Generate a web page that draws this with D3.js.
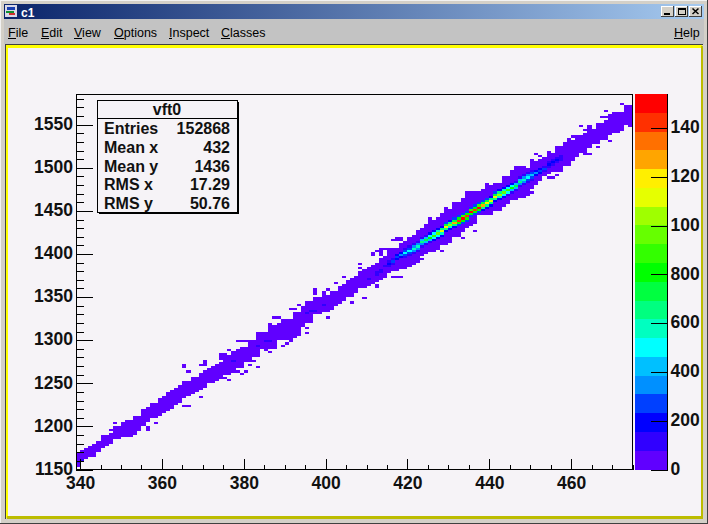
<!DOCTYPE html>
<html><head><meta charset="utf-8">
<script src="https://cdn.jsdelivr.net/npm/d3@7"></script>
<style>html,body{margin:0;padding:0;background:#c3c3c3}svg{display:block}</style>
</head><body><div id="chart"></div>
<script>
const xTicks=[340,360,380,400,420,440,460];
const xMinor=[345,350,355,365,370,375,385,390,395,405,410,415,425,430,435,445,450,455,465,470,475];
const yTicks=[1150,1200,1250,1300,1350,1400,1450,1500,1550];
const yMinor=[1160,1170,1180,1190,1210,1220,1230,1240,1260,1270,1280,1290,1310,1320,1330,1340,1360,1370,1380,1390,1410,1420,1430,1440,1460,1470,1480,1490,1510,1520,1530,1540,1560,1570,1580];
const paletteTicks=[0,200,400,600,800,1000,1200,1400];
const paletteLabels=["0","200","400","600","800","100","120","140"];
const paletteColors=["#6000ff","#3000ff","#0000ff","#0040ff","#0090ff","#00c0ff","#00ffff","#00ffc0","#00ff80","#00ff40","#00ff00","#33ff00","#66ff00","#9fff00","#e6ff00","#ffef00","#ffa500","#ff7000","#ff3000","#ff0000"];
const menuNames=["File","Edit","View","Options","Inspect","Classes"];
const statLabels=["Entries","Mean x","Mean y","RMS x","RMS y"];
const statValues=["152868","432","1436","17.29","50.76"];
// first x bin of the histogram; one entry per 1-unit column
const firstBin=339;
const envLow=[1153,1162,1165,1165.5,1167,1173.5,1175,1178,1181,1185,1187,1188,1189,1189,1191,1196,1201.5,1205,1211,1213,1214,1219,1219,1220,1227,1228,1232.5,1237,1238,1241,1244,1245,1252,1252,1254,1256,1260,1261.5,1266.5,1268,1269,1275,1278,1280,1280,1290,1288.5,1290,1290,1300,1300,1300,1299,1304,1306,1316,1321,1321,1330,1331,1333,1334,1335,1341,1343,1346.5,1350.5,1351.5,1356,1360,1362,1364,1365,1368,1371,1374,1378,1380,1381,1383,1384,1386,1388,1392,1399,1400.7,1402.7,1404.6,1406.5,1410,1411,1414,1420,1422,1426,1430,1433,1436,1445,1445,1446,1447,1451,1452,1457,1459,1462.6,1463,1466,1466.5,1469.5,1476,1482,1486,1490,1493.5,1497.3,1497,1497,1503,1503,1509,1514.7,1518.6,1518.6,1523.6,1528,1528,1533,1533,1538,1540,1540,1543.7,1551.5,1551.5];
const envHigh=[1169,1171.5,1175,1176.5,1181,1182,1189,1190,1193,1198,1199,1204,1209,1209,1212,1213,1221,1221,1225,1227.5,1232,1235,1240,1241.5,1245,1246,1250,1253,1256,1258.5,1262,1263,1269,1270.5,1273,1275,1283,1284,1287,1290,1290,1292.5,1298,1298,1303,1308,1310,1316,1316,1318,1325,1325,1325,1333,1333,1339,1344,1344,1346,1349,1354,1354,1355.6,1358,1362,1366,1369,1372,1376,1378,1383.4,1385,1387,1390,1394,1399,1404,1406,1408,1412,1415,1419,1423,1428,1431,1433.6,1441,1442,1443,1447,1453.7,1453.7,1460,1460,1466,1471,1472,1472,1472,1473,1482,1482,1483,1483,1490,1490,1496.6,1503,1503,1502,1502,1509,1509,1511,1512,1518.7,1518.7,1524.5,1525.7,1530.3,1531,1532,1535,1537,1540.8,1544,1545,1549.7,1550.5,1554.3,1559.3,1561,1563,1566,1572,1572];
// isolated low-count cells [x, y]
const strayCells=[[365,1269],[365,1271.5],[366,1263],[370,1273.5],[370,1271],[370,1276],[369,1271],[365,1250.7],[366,1250.7],[365,1222.8],[366,1222.8],[369,1234.5],[357,1227],[358,1210],[358,1203],[360,1215],[356,1195],[356,1197.5],[348,1203],[347,1195],[348,1195],[349,1198.5],[350,1198.5],[348,1185],[343,1170.6],[344,1170.6],[340,1172],[341,1172],[342,1172],[341,1163],[397,1356],[397,1354],[397,1358.5],[399,1355],[397,1349],[400,1352],[400,1359],[393,1340],[392,1337],[391,1335],[387,1327],[388,1327],[386,1315.6],[386,1318],[383,1309],[383,1305],[378,1299],[379,1299],[380,1299],[381,1299],[376,1288.6],[379,1291],[374,1284],[374,1282],[374,1279],[381,1277],[382,1277],[381,1271],[383,1269],[378,1264.6],[377,1263],[379,1261],[380,1263],[375,1257],[376,1253],[386,1287],[389,1293],[390,1297],[395,1313],[395,1309],[400,1333],[400,1327],[402,1366],[404,1373.6],[409,1349],[406,1343.5],[412,1363],[412,1360.5],[416,1373.6],[417,1373.6],[418,1373.6],[408,1388],[408,1383.6],[411,1399],[411,1401.5],[412,1404],[413,1401],[413,1399],[413,1403],[413,1407],[414,1407],[415,1407],[417,1419],[418,1419],[417,1416.5],[418,1416.5],[416,1416],[421,1391],[436,1426],[433,1417.7],[423,1393],[421,1390],[428,1404],[450,1470],[451,1517],[450,1509],[452,1514],[472,1574],[468,1566],[469,1560.5],[470,1564.7],[467,1558],[468,1558],[468,1554.6],[466,1552],[467,1552],[466,1549.5],[467,1549.5],[464,1549.6],[464,1547],[462,1548.5],[463,1544],[460,1536],[461,1536],[459,1534.6],[456,1520],[457,1520],[456,1522.5],[457,1522.5],[469,1530],[466,1524.5],[463,1516],[464,1516],[456,1491.6],[454,1489],[455,1489],[474,1549.6]];
// slightly fuller cells inside the band [x, y]
const denserCells=[[385,1299],[386,1299],[377,1275],[383,1293],[395,1330],[396,1333],[397,1333],[399,1341],[410,1372],[412,1379],[413,1379],[412,1376.5],[413,1381],[414,1385],[339,1158],[340,1160]];
// ridge: x of column, lower y of first row, counts in seven successive rows
const ridgeX=[415,416,417,418,419,420,421,422,423,424,425,426,427,428,429,430,431,432,433,434,435,436,437,438,439,440,441,442,443,444,445,446,447,448,449,450,451,452,453,454,455,456,457];
const ridgeY=[1380,1382.5,1387.5,1390,1392.5,1395,1397.5,1400,1405,1407.5,1410,1412.5,1415,1417.5,1422.5,1425,1427.5,1430,1432.5,1435,1440,1442.5,1445,1447.5,1450,1452.5,1457.5,1460,1462.5,1465,1467.5,1470,1475,1477.5,1480,1482.5,1485,1487.5,1490,1495,1497.5,1500,1502.5];
const ridgeCounts=[[10,36,110,200,120,40,10],[12,45,138,250,150,50,12],[15,54,165,300,180,60,15],[19,68,209,380,228,76,19],[24,86,264,480,288,96,24],[25,90,275,500,300,100,25],[28,100,308,560,336,112,28],[30,108,330,600,360,120,30],[32,117,358,650,390,130,32],[36,130,396,720,432,144,36],[40,144,440,800,480,160,40],[44,158,484,880,528,176,44],[48,171,522,950,570,190,48],[55,198,605,1100,660,220,55],[59,212,649,1180,708,236,59],[52,189,578,1050,630,210,52],[62,225,688,1250,750,250,62],[70,252,770,1400,840,280,70],[75,270,825,1500,900,300,75],[70,252,770,1400,840,280,70],[76,274,836,1520,912,304,76],[70,252,770,1400,840,280,70],[74,266,814,1480,888,296,74],[62,225,688,1250,750,250,62],[60,216,660,1200,720,240,60],[58,207,632,1150,690,230,58],[59,212,649,1180,708,236,59],[52,189,578,1050,630,210,52],[48,171,522,950,570,190,48],[42,153,468,850,510,170,42],[40,144,440,800,480,160,40],[36,130,396,720,432,144,36],[32,117,358,650,390,130,32],[28,100,308,560,336,112,28],[26,94,286,520,312,104,26],[22,81,248,450,270,90,22],[19,68,209,380,228,76,19],[14,50,154,280,168,56,14],[12,45,138,250,150,50,12],[11,40,121,220,132,44,11],[9,32,99,180,108,36,9],[8,31,94,170,102,34,8],[8,27,82,150,90,30,8]];

const W=708,H=524,bg="#f6f3f7",axisFont="Liberation Sans, Arial, sans-serif";
const svg=d3.select("#chart").append("svg").attr("width",W).attr("height",H);
const grad=svg.append("defs").append("linearGradient").attr("id","tb");
grad.append("stop").attr("offset","0").attr("stop-color","#0a246a");
grad.append("stop").attr("offset","1").attr("stop-color","#a6caf0");
const box=(x,y,w,h,f)=>svg.append("rect").attr("x",x).attr("y",y).attr("width",w).attr("height",h).attr("fill",f).attr("shape-rendering","crispEdges");

// window chrome
box(0,0,W,H,"#d4d0c8");
box(0,0,W,1,"#f2f2f2");box(0,0,1,H,"#f2f2f2");box(W-1,0,1,H,"#404040");box(0,H-1,W,1,"#404040");
box(4,4,700,15,"url(#tb)");
box(4,19,700,25,"#c3c3c3");
box(5,44,698,1,"#404040");box(5,44,1,475,"#404040");
box(6,45,696,3,"#ffff00");box(6,45,2,473,"#ffff00");
box(701,46,2,473,"#bcbc00");box(7,516,696,3,"#bcbc00");
box(8,48,693,468,bg);

// title bar
box(5,5,12,12,"#d8d8e8");box(7,7,8,3,"#1a3fb0");box(6,11,8,2,"#109030");box(9,13,6,2,"#d03030");
svg.append("text").attr("x",21).attr("y",17).attr("fill","#fff").attr("font-family",axisFont).attr("font-weight","bold").attr("font-size",12).text("c1");
[[661,"min"],[675,"max"],[689,"close"]].forEach(([x,k])=>{
  box(x,6,13,11,"#d4d0c8");box(x,6,13,1,"#fff");box(x,6,1,11,"#fff");box(x,16,13,1,"#404040");box(x+12,6,1,11,"#404040");
  const g=svg.append("g").attr("stroke","#000").attr("fill","none").attr("stroke-width",k=="close"?1.5:1).attr("shape-rendering",k=="close"?"auto":"crispEdges");
  if(k=="min")g.append("path").attr("d",`M${x+3} 14.5H${x+9}M${x+3} 13.5H${x+9}`);
  if(k=="max")g.append("path").attr("d",`M${x+3} 8.5H${x+10}V14.5H${x+3}ZM${x+3} 9.5H${x+10}`);
  if(k=="close")g.append("path").attr("d",`M${x+3.5} 8.5L${x+9.5} 14M${x+9.5} 8.5L${x+3.5} 14`);
});
// menus
const menuX=[8,41,74,114,169,221];
const menu=(t,x)=>{svg.append("text").attr("x",x).attr("y",37).attr("fill","#000").attr("font-family",axisFont).attr("font-size",12.5).text(t);
  const f=svg.append("text").attr("font-family",axisFont).attr("font-size",12.5).attr("opacity",0).text(t[0]);
  const fw=f.node().getComputedTextLength();f.remove();
  box(x,38,fw,1,"#000");};
menuNames.forEach((t,i)=>menu(t,menuX[i]));
menu("Help",674);

// scales
const x=d3.scaleLinear().domain([339,475]).range([76,632.5]);
const y=d3.scaleLinear().domain([1150,1585.6]).range([469.5,94]);
const z=d3.scaleLinear().domain([0,1540]).range([469.5,94]);
const band=d3.scaleQuantize().domain([0,1540]).range(paletteColors);

// cells
const cells=new Map();
const put=(cx,vy,c)=>{const r=Math.floor((vy-1150)/2.5);if(r<0||cx<339||cx>474)return;const k=cx+"|"+r;cells.set(k,Math.max(cells.get(k)||0,c));};
envLow.forEach((lo,i)=>{for(let v=lo;v<envHigh[i];v+=2.5)put(firstBin+i,v,20);});
strayCells.forEach(([a,b])=>put(a,b,8));
denserCells.forEach(([a,b])=>put(a,b,100));
ridgeX.forEach((cx,i)=>ridgeCounts[i].forEach((c,j)=>put(cx,ridgeY[i]+j*2.5,c)));
svg.append("g").attr("shape-rendering","crispEdges").selectAll("rect").data([...cells.entries()]).join("rect")
  .each(function([k,c]){const [cx,r]=k.split("|").map(Number);
    d3.select(this).attr("x",x(cx)).attr("width",x(cx+1)-x(cx)).attr("y",y(1150+(r+1)*2.5)).attr("height",y(1150+r*2.5)-y(1150+(r+1)*2.5)).attr("fill",band(c));});

// palette
const edges=d3.range(paletteColors.length).map(i=>i*77);
svg.append("g").attr("shape-rendering","crispEdges").selectAll("rect").data(paletteColors).join("rect")
  .attr("x",635).attr("width",32.5).attr("y",(d,i)=>z(edges[i]+77)).attr("height",(d,i)=>z(edges[i])-z(edges[i]+77)).attr("fill",d=>d);

// frame and axes
const style=g=>{g.attr("font-family",axisFont).attr("font-weight","bold").attr("font-size",17.5).attr("color","#000");
  g.selectAll("text").attr("fill","#111");g.selectAll("line,path").attr("shape-rendering","crispEdges");};
svg.append("rect").attr("x",76).attr("y",94).attr("width",556.5).attr("height",375.5).attr("fill","none").attr("stroke","#000").attr("shape-rendering","crispEdges");
svg.append("g").attr("transform","translate(76,0)").call(d3.axisLeft(y).tickValues(yMinor).tickSize(-8).tickFormat("")).call(style).select(".domain").remove();
const ya=svg.append("g").attr("transform","translate(76,0)").call(d3.axisLeft(y).tickValues(yTicks).tickSize(-17).tickFormat(d3.format("d"))).call(style);
ya.select(".domain").remove();
ya.selectAll("text").attr("x",-3).attr("text-anchor","end").attr("dy","0.27em");
svg.append("g").attr("transform","translate(0,469.5)").call(d3.axisBottom(x).tickValues(xMinor).tickSize(-5).tickFormat("")).call(style).select(".domain").remove();
const xa=svg.append("g").attr("transform","translate(0,469.5)").call(d3.axisBottom(x).tickValues(xTicks).tickSize(-11).tickFormat(d3.format("d"))).call(style);
xa.select(".domain").remove();
xa.selectAll("text").attr("y",4).attr("dy","0.9em");
const za=svg.append("g").attr("transform","translate(667.5,0)").call(d3.axisRight(z).tickValues(paletteTicks).tickSize(-17).tickFormat((d,i)=>paletteLabels[i])).call(style);
za.select(".domain").remove();
za.selectAll("text").attr("x",3).attr("text-anchor","start").attr("dy","0.27em");
svg.append("line").attr("x1",667.5).attr("x2",667.5).attr("y1",94).attr("y2",470).attr("stroke","#000").attr("shape-rendering","crispEdges");

// stats box
box(99,102,140,112,"#000");
svg.append("rect").attr("x",97.5).attr("y",100.5).attr("width",140).attr("height",112).attr("fill",bg).attr("stroke","#000").attr("shape-rendering","crispEdges");
svg.append("line").attr("x1",98).attr("x2",237).attr("y1",118.5).attr("y2",118.5).attr("stroke","#000").attr("shape-rendering","crispEdges");
const st=svg.append("g").attr("font-family",axisFont).attr("font-weight","bold").attr("font-size",16).attr("fill","#111");
st.append("text").attr("x",167).attr("y",114.5).attr("text-anchor","middle").text("vft0");
const base=[133.5,152.5,171.5,189.5,208.5];
statLabels.forEach((t,i)=>{st.append("text").attr("x",104).attr("y",base[i]).text(t);
  st.append("text").attr("x",230).attr("y",base[i]).attr("text-anchor","end").text(statValues[i]);});
</script></body></html>
